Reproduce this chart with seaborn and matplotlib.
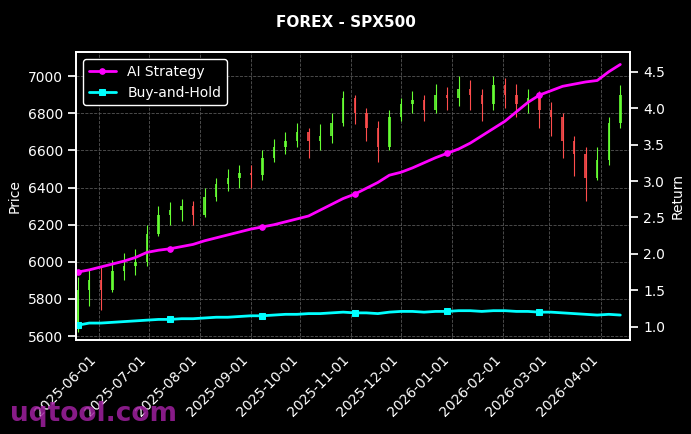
import matplotlib
matplotlib.use("Agg")
import matplotlib.pyplot as plt
import matplotlib.dates as mdates
import seaborn as sns
import pandas as pd
import numpy as np

sns.set_theme(style="dark")
plt.style.use("dark_background")
plt.rcParams['font.family'] = ['DejaVu Sans']
plt.rcParams['font.size'] = 10
plt.rcParams['axes.labelsize'] = 10
plt.rcParams['xtick.labelsize'] = 10
plt.rcParams['ytick.labelsize'] = 10
plt.rcParams['legend.fontsize'] = 10

dates = pd.date_range("2025-05-19", periods=48, freq="W-MON")
close = [5850, 5900, 5850, 5950, 5980, 6000, 6150, 6250, 6280, 6300, 6250, 6350,
         6420, 6450, 6480, 6470, 6560, 6620, 6650, 6700, 6650, 6680, 6750, 6880,
         6800, 6720, 6620, 6780, 6850, 6870, 6820, 6900, 6880, 6930, 6900, 6850,
         6950, 6900, 6850, 6880, 6820, 6780, 6650, 6580, 6450, 6550, 6750, 6900]
open_ = [5650] + close[:-1]
high = [5920, 5960, 5980, 6010, 6050, 6070, 6200, 6300, 6320, 6340, 6330, 6400,
        6450, 6500, 6520, 6520, 6600, 6660, 6700, 6750, 6720, 6740, 6800, 6920,
        6900, 6830, 6760, 6820, 6880, 6920, 6900, 6960, 6940, 7000, 6980, 6930,
        7000, 6990, 6960, 6930, 6920, 6860, 6800, 6680, 6620, 6620, 6780, 6950]
low = [5620, 5760, 5740, 5840, 5900, 5930, 5980, 6140, 6200, 6220, 6200, 6240,
       6330, 6380, 6400, 6400, 6440, 6540, 6580, 6620, 6560, 6600, 6640, 6730,
       6740, 6650, 6540, 6600, 6760, 6800, 6760, 6800, 6820, 6840, 6820, 6760,
       6820, 6830, 6780, 6800, 6720, 6680, 6560, 6460, 6330, 6440, 6520, 6720]
ai_ret = [1.75, 1.78, 1.82, 1.86, 1.90, 1.95, 2.02, 2.05, 2.07, 2.10, 2.13, 2.18,
          2.22, 2.26, 2.30, 2.34, 2.37, 2.40, 2.44, 2.48, 2.52, 2.60, 2.68, 2.76,
          2.82, 2.90, 2.98, 3.08, 3.12, 3.18, 3.25, 3.32, 3.38, 3.44, 3.52, 3.62,
          3.72, 3.82, 3.95, 4.08, 4.18, 4.24, 4.30, 4.33, 4.36, 4.38, 4.50, 4.60]
bh_ret = [1.02, 1.05, 1.05, 1.06, 1.07, 1.08, 1.09, 1.10, 1.10, 1.11, 1.11, 1.12,
          1.13, 1.13, 1.14, 1.15, 1.15, 1.16, 1.17, 1.17, 1.18, 1.18, 1.19, 1.20,
          1.19, 1.19, 1.18, 1.20, 1.21, 1.21, 1.20, 1.21, 1.21, 1.22, 1.22, 1.21,
          1.22, 1.22, 1.21, 1.21, 1.20, 1.20, 1.19, 1.18, 1.17, 1.16, 1.17, 1.16]

fig = plt.figure(figsize=(6.91, 4.34), dpi=100, facecolor="black")
ax = fig.add_axes([0.110, 0.217, 0.802, 0.663])
ax.set_facecolor("black")
up = "#66ff33"; dn = "#ff4d4d"
for d, o, h, l, c in zip(dates, open_, high, low, close):
    col = up if c >= o else dn
    ax.vlines(d, l, h, color=col, lw=0.8)
    ax.bar(d, abs(c - o) if c != o else 5, bottom=min(o, c), width=1.5,
           color=col, alpha=0.85, linewidth=0, edgecolor="none")
ax.set_ylim(5580, 7130)
ax.set_xlim(pd.Timestamp("2025-05-18"), pd.Timestamp("2026-04-19"))
ax.set_ylabel("Price", color="white")
ax.grid(True, color="#555555", ls="--", lw=0.6)
ax.xaxis.set_major_locator(mdates.MonthLocator())
ax.xaxis.set_major_formatter(mdates.DateFormatter("%Y-%m-%d"))
plt.setp(ax.get_xticklabels(), rotation=45, ha="right")

ax2 = ax.twinx()
df = pd.DataFrame({"date": dates, "ai": ai_ret, "bh": bh_ret})
sns.lineplot(data=df, x="date", y="ai", ax=ax2, color="#ff00ff", lw=2, marker="o",
             markersize=4, markevery=8, markeredgecolor="#ff00ff", label="AI Strategy")
sns.lineplot(data=df, x="date", y="bh", ax=ax2, color="#00ffff", lw=2, marker="s",
             markersize=4, markevery=8, markeredgecolor="#00ffff", label="Buy-and-Hold")
ax2.set_ylim(0.82, 4.77)
ax2.set_ylabel("Return", color="white")
ax2.set_xlabel("")
ax2.legend(loc="upper left", facecolor="black", edgecolor="white", framealpha=1)
for a in (ax, ax2):
    for s in a.spines.values():
        s.set_color("white")
    a.tick_params(colors="white")
fig.suptitle("FOREX - SPX500", color="white", fontweight="bold", fontsize=11, y=0.965)
fig.text(0.015, 0.03, "uqtool.com", color="#a020a0", fontsize=19, fontweight="bold", alpha=0.85)
fig.savefig("out.png", dpi=100, facecolor="black")
